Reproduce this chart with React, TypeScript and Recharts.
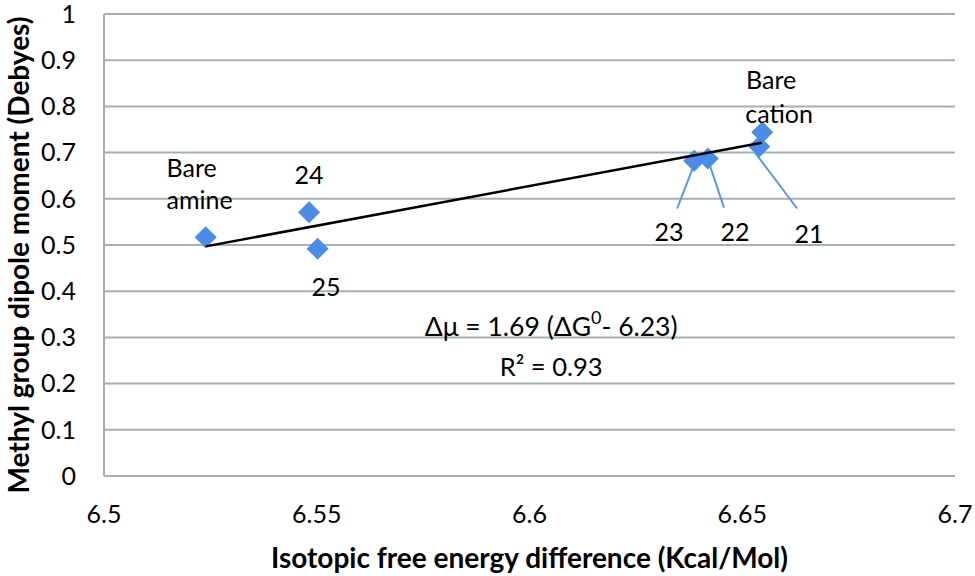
import React from 'react';
import { ScatterChart, Scatter, XAxis, YAxis, CartesianGrid, Label } from 'recharts';

const xTicks = [6.5, 6.55, 6.6, 6.65, 6.7];
const yTicks = [0, 0.1, 0.2, 0.3, 0.4, 0.5, 0.6, 0.7, 0.8, 0.9, 1];
const yTickLabels = ['0', '0.1', '0.2', '0.3', '0.4', '0.5', '0.6', '0.7', '0.8', '0.9', '1'];

// compounds: Bare amine, 24, 25, 23, 22, Bare cation, 21
const compounds = ['Bare amine', '24', '25', '23', '22', 'Bare cation', '21'];
const freeEnergy = [6.5239, 6.5482, 6.5502, 6.6387, 6.6419, 6.6547, 6.6540];
const dipole = [0.517, 0.571, 0.492, 0.6825, 0.6875, 0.744, 0.713];

// fitted trend line end points
const trendX = [6.5239, 6.6546];
const trendY = [0.497, 0.7214];

// leader lines from labels 23, 22, 21 to their points
const leader23 = [{ x: 6.6347, y: 0.579 }, { x: 6.6384, y: 0.667 }];
const leader22 = [{ x: 6.6457, y: 0.581 }, { x: 6.6424, y: 0.672 }];
const leader21 = [{ x: 6.6629, y: 0.579 }, { x: 6.6530, y: 0.700 }];

// annotation texts at data coordinates
const annoText = ['Bare', 'amine', '24', '25', '23', '22', '21', 'Bare', 'cation'];
const annoX = [6.5147, 6.5147, 6.5482, 6.5522, 6.6328, 6.6483, 6.6657, 6.6509, 6.6507];
const annoY = [0.668, 0.600, 0.654, 0.411, 0.530, 0.530, 0.525, 0.860, 0.786];
const annoAnchor = ['start', 'start', 'middle', 'middle', 'middle', 'middle', 'middle', 'start', 'start'];

const eqX = 6.6051;
const eqY = [0.324, 0.238];

const points = compounds.map((name, i) => ({ name, x: freeEnergy[i], y: dipole[i] }));
const trend = trendX.map((x, i) => ({ x, y: trendY[i] }));
const annotations = annoText.map((t, i) => ({ t, x: annoX[i], y: annoY[i], anchor: annoAnchor[i] }));
const equations = [
  { x: eqX, y: eqY[0], k: 'eq' },
  { x: eqX, y: eqY[1], k: 'r2' },
];

const FONT = 'Lato, "Open Sans", sans-serif';
const GRID = '#a3b1b1';
const BLUE = '#4a8ce8';
const LEADER = '#5a98e6';

const Diamond = (props: any) => {
  const { cx, cy } = props;
  if (cx == null || cy == null) return <g />;
  const r = 11;
  return (
    <polygon
      points={`${cx},${cy - r} ${cx + r},${cy} ${cx},${cy + r} ${cx - r},${cy}`}
      fill={BLUE}
    />
  );
};

const Empty = () => <g />;

const AnnoShape = (props: any) => {
  const { cx, cy, payload } = props;
  return (
    <text
      x={cx}
      y={cy}
      textAnchor={payload.anchor}
      dominantBaseline="central"
      fontFamily={FONT}
      fontSize={25}
      fill="#000"
    >
      {payload.t}
    </text>
  );
};

const EqShape = (props: any) => {
  const { cx, cy, payload } = props;
  if (payload.k === 'eq') {
    return (
      <text x={cx} y={cy} textAnchor="middle" dominantBaseline="central" fontFamily={FONT} fontSize={26.5} fill="#000">
        {'\u0394\u03bc = 1.69 (\u0394G'}
        <tspan fontSize={18} dy={-9}>0</tspan>
        <tspan dy={9}>- 6.23)</tspan>
      </text>
    );
  }
  return (
    <text x={cx} y={cy} textAnchor="middle" dominantBaseline="central" fontFamily={FONT} fontSize={25.5} fill="#000">
      {'R\u00b2 = 0.93'}
    </text>
  );
};

const XTitle = (props: any) => {
  const vb = props.viewBox;
  return (
    <text
      x={vb.x + vb.width / 2}
      y={vb.y + 81}
      textAnchor="middle"
      dominantBaseline="central"
      fontFamily={FONT}
      fontWeight="bold"
      fontSize={28}
      fill="#000"
    >
      Isotopic free energy difference (Kcal/Mol)
    </text>
  );
};

const YTitle = (props: any) => {
  const vb = props.viewBox;
  const cx = 18;
  const cy = vb.y + vb.height / 2 + 10;
  return (
    <text
      x={cx}
      y={cy}
      transform={`rotate(-90 ${cx} ${cy})`}
      textAnchor="middle"
      dominantBaseline="central"
      fontFamily={FONT}
      fontWeight="bold"
      fontSize={28}
      fill="#000"
    >
      Methyl group dipole moment (Debyes)
    </text>
  );
};

export default function App() {
  return (
    <div style={{ position: 'absolute', left: 0, top: 0, width: 975, height: 576, background: '#fff' }}>
      <ScatterChart width={975} height={576} margin={{ top: 14, right: 20, bottom: 0, left: 0 }}>
        <CartesianGrid vertical={false} stroke={GRID} strokeWidth={2} />
        <XAxis
          type="number"
          dataKey="x"
          domain={[6.5, 6.7]}
          ticks={xTicks}
          interval={0}
          allowDataOverflow
          height={100}
          axisLine={{ stroke: GRID, strokeWidth: 2 }}
          tickLine={false}
          tickSize={6}
          tickMargin={23}
          tick={{ fontFamily: FONT, fontSize: 25, fill: '#000' }}
          tickFormatter={(v: number) => String(v)}
        >
          <Label content={<XTitle />} />
        </XAxis>
        <YAxis
          type="number"
          dataKey="y"
          domain={[0, 1]}
          ticks={yTicks}
          interval={0}
          allowDataOverflow
          width={104}
          axisLine={{ stroke: GRID, strokeWidth: 2 }}
          tickLine={false}
          tickSize={6}
          tickMargin={22}
          tick={{ fontFamily: FONT, fontSize: 25, fill: '#000' }}
          tickFormatter={(v: number) => yTickLabels[yTicks.indexOf(v)] ?? String(v)}
        >
          <Label content={<YTitle />} />
        </YAxis>
        <Scatter data={leader23} line={{ stroke: LEADER, strokeWidth: 2 }} shape={<Empty />} isAnimationActive={false} />
        <Scatter data={leader22} line={{ stroke: LEADER, strokeWidth: 2 }} shape={<Empty />} isAnimationActive={false} />
        <Scatter data={leader21} line={{ stroke: LEADER, strokeWidth: 2 }} shape={<Empty />} isAnimationActive={false} />
        <Scatter data={points} shape={<Diamond />} isAnimationActive={false} />
        <Scatter data={trend} line={{ stroke: '#000', strokeWidth: 2.5 }} shape={<Empty />} isAnimationActive={false} />
        <Scatter data={annotations} shape={<AnnoShape />} isAnimationActive={false} />
        <Scatter data={equations} shape={<EqShape />} isAnimationActive={false} />
      </ScatterChart>
    </div>
  );
}
